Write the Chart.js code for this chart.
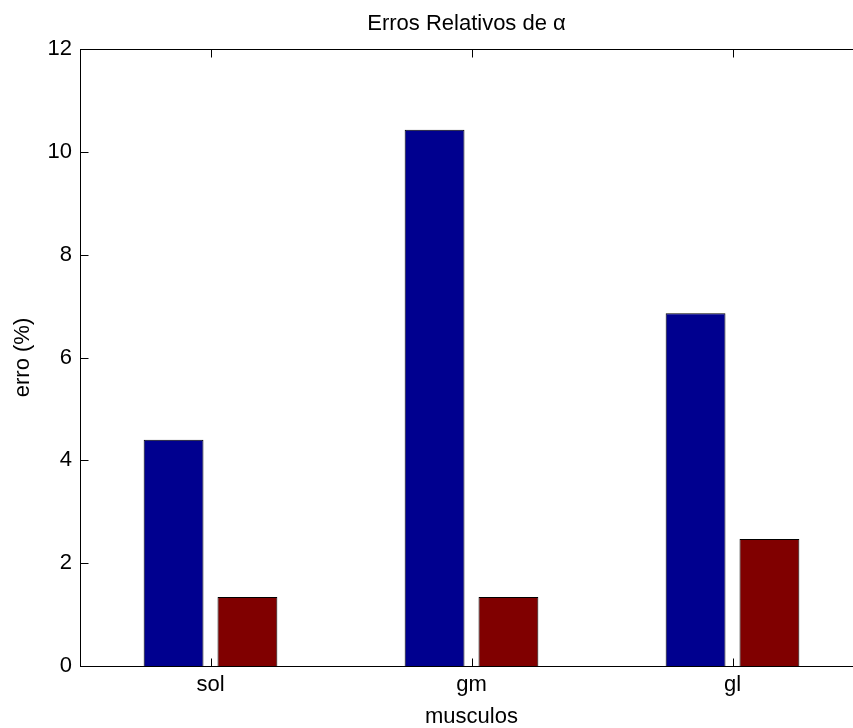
<!doctype html>
<html>
<head>
<meta charset="utf-8" />
<script src="https://cdn.jsdelivr.net/npm/chart.js"></script>
<style>
  html, body { margin: 0; padding: 0; background: #fff; overflow: hidden; }
  canvas { display: block; }
</style>
</head>
<body>
<canvas id="chart" width="853" height="728"></canvas>
<script>
const categories = ['sol', 'gm', 'gl'];
const serie1 = [4.40, 10.43, 6.86];
const serie2 = [1.34, 1.34, 2.47];
const yTicks = [0, 2, 4, 6, 8, 10, 12];

const font = { family: '"Liberation Sans", Arial, sans-serif', size: 22, lineHeight: 1.2 };

// the original axes run past the right edge of the picture
const plotRight = 863;
const widenAxes = {
  id: 'widenAxes',
  afterLayout(chart) {
    const x = chart.scales.x;
    x.right = plotRight;
    x.width = x.right - x.left;
    x.configure();
    chart.chartArea.right = plotRight;
    chart.chartArea.width = plotRight - chart.chartArea.left;
  }
};

// MATLAB style box with inward ticks
const frame = {
  id: 'frame',
  afterDatasetsDraw(chart) {
    const { ctx, chartArea: a, scales: { x, y } } = chart;
    const L = Math.round(a.left) + 0.5, R = Math.round(a.right) + 0.5;
    const T = Math.round(a.top) + 0.5, B = Math.round(a.bottom) + 0.5;
    const len = 8;
    ctx.save();
    ctx.strokeStyle = '#000';
    ctx.lineWidth = 1;
    ctx.strokeRect(L, T, R - L, B - T);
    ctx.beginPath();
    yTicks.forEach((v) => {
      const py = Math.round(y.getPixelForValue(v)) + 0.5;
      ctx.moveTo(L, py); ctx.lineTo(L + len, py);
      ctx.moveTo(R, py); ctx.lineTo(R - len, py);
    });
    categories.forEach((c, i) => {
      const px = Math.round(x.getPixelForValue(i)) + 0.5;
      ctx.moveTo(px, B); ctx.lineTo(px, B - len);
      ctx.moveTo(px, T); ctx.lineTo(px, T + len);
    });
    ctx.stroke();
    ctx.restore();
  }
};

new Chart(document.getElementById('chart'), {
  type: 'bar',
  data: {
    labels: categories,
    datasets: [
      { data: serie1, backgroundColor: '#00008f', borderColor: '#000', borderWidth: 1,
        categoryPercentage: 0.566, barPercentage: 0.81 },
      { data: serie2, backgroundColor: '#800000', borderColor: '#000', borderWidth: 1,
        categoryPercentage: 0.566, barPercentage: 0.81 },
    ],
  },
  options: {
    responsive: false,
    animation: false,
    layout: { padding: 0 },
    plugins: {
      legend: { display: false },
      tooltip: { enabled: false },
      title: {
        display: true, text: 'Erros Relativos de α', color: '#000', fullSize: false,
        font: { ...font, weight: 'normal' }, padding: { top: 11, bottom: 11.6 },
      },
    },
    scales: {
      x: {
        grid: { display: false, drawTicks: false },
        border: { display: false },
        ticks: { color: '#000', font, padding: 6 },
        title: { display: true, text: 'musculos', color: '#000', font: { ...font, lineHeight: 1 }, padding: { top: 0, bottom: 0 } },
        afterFit(scale) { scale.height = 62; },
      },
      y: {
        min: 0, max: 12,
        grid: { display: false, drawTicks: false },
        border: { display: false },
        ticks: { color: '#000', font, padding: 8, stepSize: 2 },
        title: { display: true, text: 'erro (%)', color: '#000', font, padding: { top: 10, bottom: 0 } },
        afterFit(scale) { scale.width = 80; },
      },
    },
  },
  plugins: [widenAxes, frame],
});
</script>
</body>
</html>
